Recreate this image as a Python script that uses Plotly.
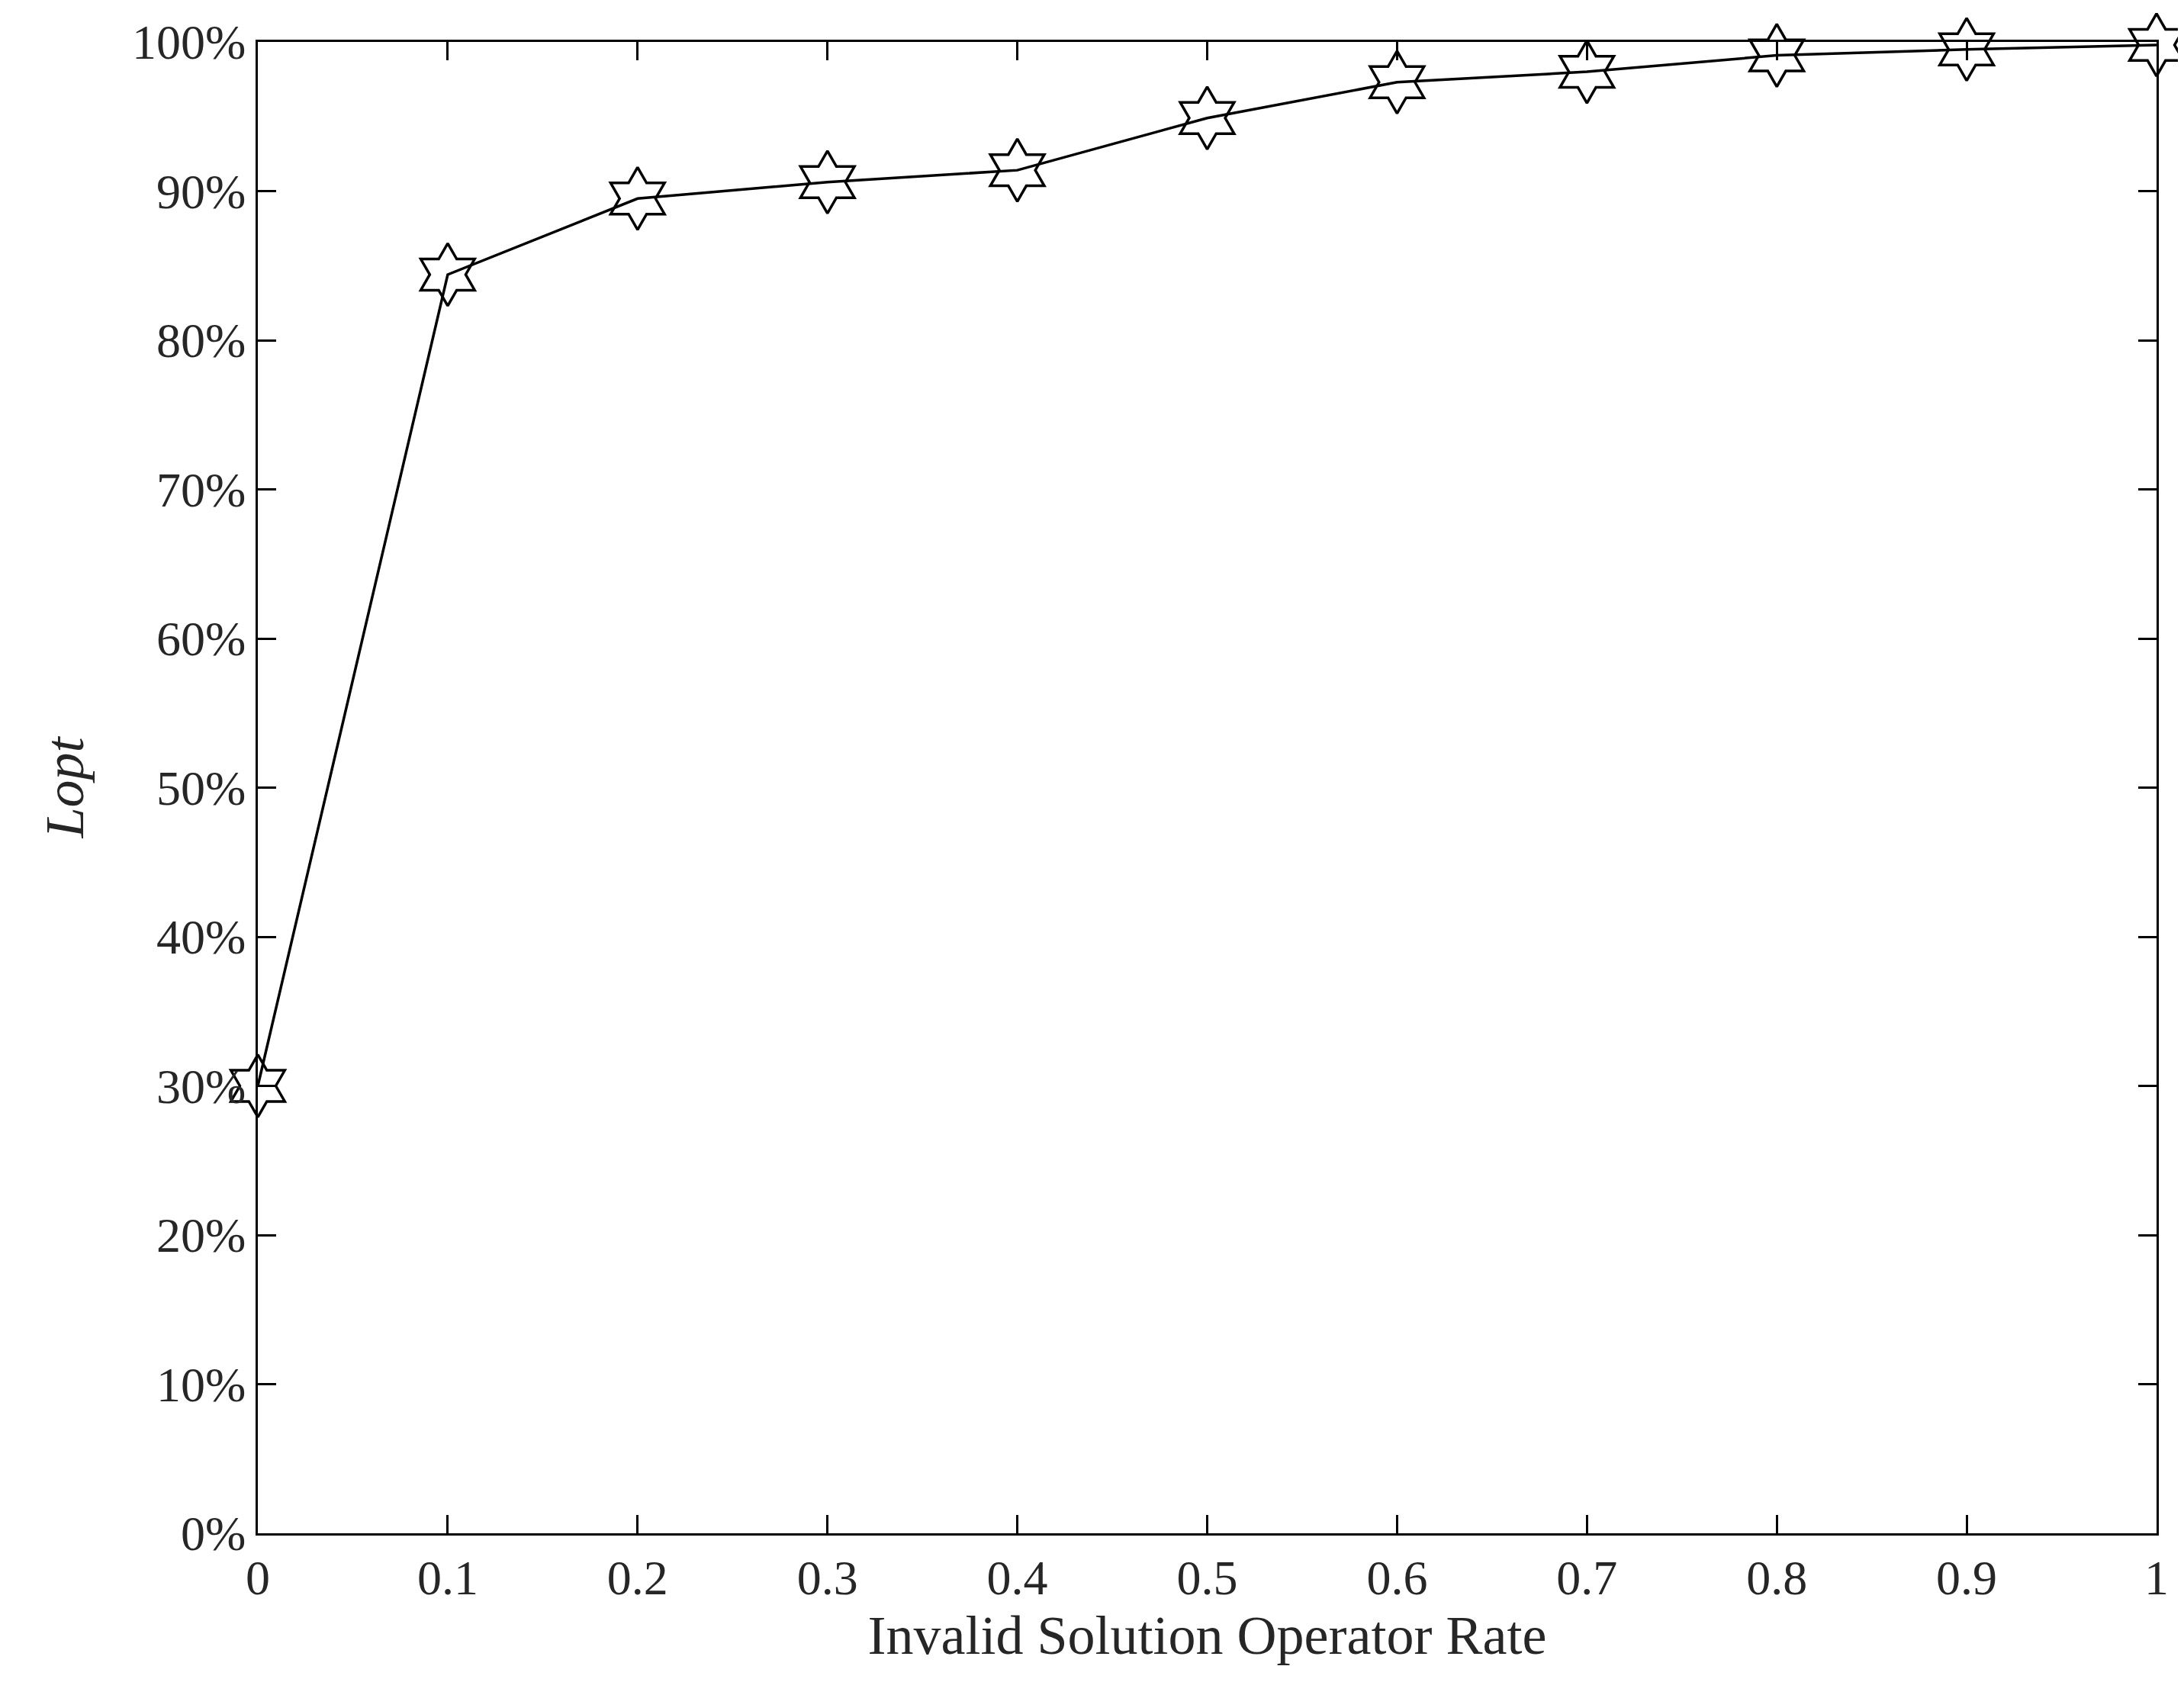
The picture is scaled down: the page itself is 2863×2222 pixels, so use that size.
import plotly.graph_objects as go

x_vals = [0, 0.1, 0.2, 0.3, 0.4, 0.5, 0.6, 0.7, 0.8, 0.9, 1.0]
lopt = [30.0, 84.4, 89.5, 90.6, 91.4, 94.9, 97.3, 98.0, 99.1, 99.5, 99.8]
x_ticks = [0, 0.1, 0.2, 0.3, 0.4, 0.5, 0.6, 0.7, 0.8, 0.9, 1]
x_labels = ["0", "0.1", "0.2", "0.3", "0.4", "0.5", "0.6", "0.7", "0.8", "0.9", "1"]
y_ticks = list(range(0, 101, 10))
y_labels = [f"{v}%" for v in y_ticks]

fig = go.Figure(go.Scatter(
    x=x_vals, y=lopt, mode="lines+markers",
    line=dict(color="black", width=3.5),
    marker=dict(symbol="hexagram-open", size=62, color="black", line=dict(width=3.5, color="black")),
    cliponaxis=False,
))
font = dict(family="Liberation Serif", size=64, color="#262626")
axis_common = dict(showgrid=False, zeroline=False, showline=True, linecolor="black", linewidth=3,
                   mirror="ticks", ticks="inside", ticklen=24, tickwidth=3, tickcolor="black",
                   tickfont=font)
fig.update_layout(
    width=2863, height=2222, plot_bgcolor="white", paper_bgcolor="white",
    margin=dict(l=330, r=44, t=40, b=220), showlegend=False,
    xaxis=dict(range=[0, 1], tickvals=x_ticks, ticktext=x_labels,
               title=dict(text="Invalid Solution Operator Rate", font=dict(family="Liberation Serif", size=72, color="#262626"), standoff=8),
               **axis_common),
    yaxis=dict(range=[0, 100], tickvals=y_ticks, ticktext=y_labels,
               title=dict(text="<i>Lopt</i>", font=dict(family="Liberation Serif", size=72, color="#262626"), standoff=40),
               **axis_common),
)
fig.write_html("out.html")
